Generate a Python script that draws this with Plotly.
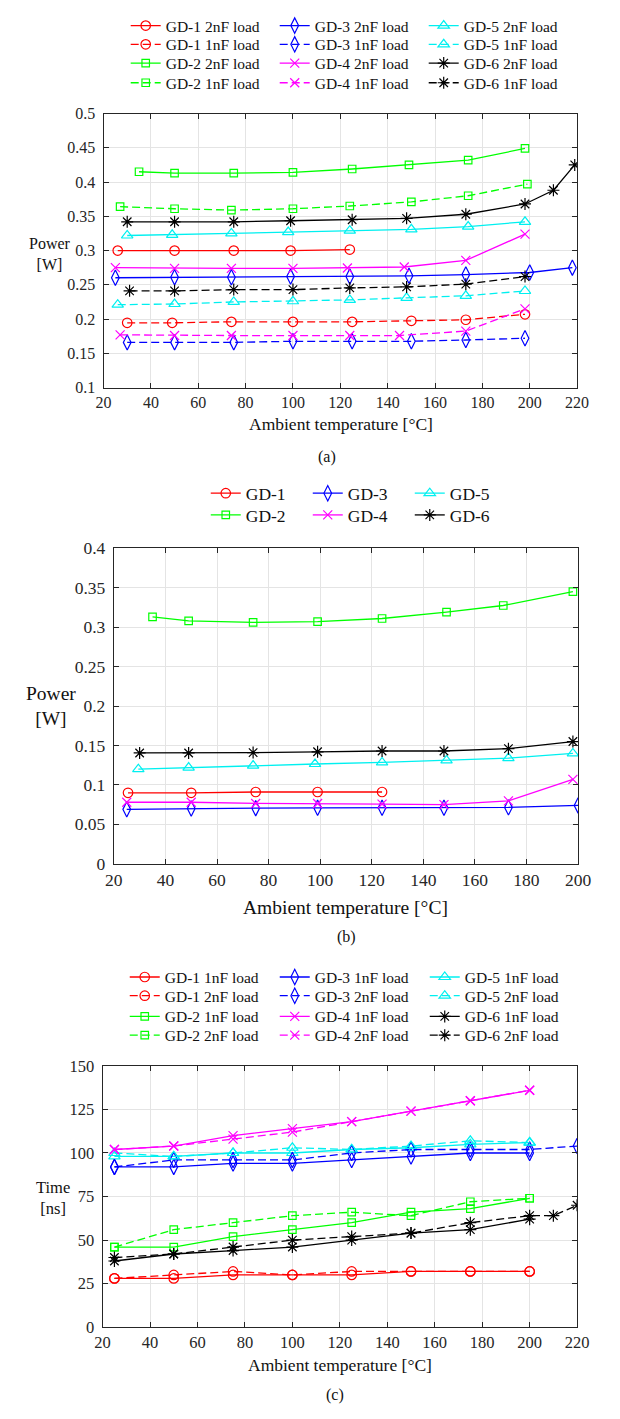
import plotly.graph_objects as go

W, H = 620, 1419
FONT = "Liberation Serif"
AXC = "#262626"
GRID = "#e4e4e4"

RED, BLUE, CYAN = "#ff0000", "#0000ff", "#00f0f0"
GREEN, MAGENTA, BLACK = "#00ff00", "#ff00ff", "#000000"

# ---------------- (a) gate-driver power, 1nF / 2nF load ----------------
a_gd1_2n_x = [26, 50, 75, 99, 124]
a_gd1_2n_y = [0.300, 0.300, 0.300, 0.300, 0.3015]
a_gd1_1n_x = [30, 49, 74, 100, 125, 150, 173, 198]
a_gd1_1n_y = [0.1946, 0.1946, 0.196, 0.196, 0.196, 0.1975, 0.199, 0.207]
a_gd2_2n_x = [35, 50, 75, 100, 125, 149, 174, 198]
a_gd2_2n_y = [0.415, 0.413, 0.413, 0.414, 0.419, 0.425, 0.432, 0.449]
a_gd2_1n_x = [27, 50, 74, 100, 124, 150, 174, 199]
a_gd2_1n_y = [0.364, 0.361, 0.359, 0.361, 0.365, 0.371, 0.380, 0.397]
a_gd3_2n_x = [25, 50, 74, 99, 124, 149, 173, 200, 218]
a_gd3_2n_y = [0.2603, 0.261, 0.261, 0.262, 0.2622, 0.2632, 0.265, 0.268, 0.275]
a_gd3_1n_x = [30, 50, 75, 100, 125, 150, 173, 198]
a_gd3_1n_y = [0.166, 0.166, 0.166, 0.1676, 0.1676, 0.1676, 0.1695, 0.172]
a_gd4_2n_x = [25, 50, 74, 100, 123, 147, 173, 198]
a_gd4_2n_y = [0.275, 0.274, 0.274, 0.274, 0.2746, 0.276, 0.2856, 0.324]
a_gd4_1n_x = [27, 50, 74, 100, 124, 145, 173, 198]
a_gd4_1n_y = [0.177, 0.176, 0.176, 0.176, 0.176, 0.176, 0.1825, 0.215]
a_gd5_2n_x = [30, 49, 74, 98, 124, 150, 174, 198]
a_gd5_2n_y = [0.322, 0.323, 0.325, 0.327, 0.329, 0.331, 0.335, 0.342]
a_gd5_1n_x = [26, 50, 75, 100, 124, 148, 173, 198]
a_gd5_1n_y = [0.221, 0.222, 0.225, 0.226, 0.228, 0.231, 0.234, 0.241]
a_gd6_2n_x = [30, 50, 75, 99, 125, 148, 173, 198, 210, 219]
a_gd6_2n_y = [0.342, 0.342, 0.342, 0.3435, 0.345, 0.347, 0.353, 0.368, 0.388, 0.425]
a_gd6_1n_x = [31, 50, 75, 100, 124, 148, 173, 198]
a_gd6_1n_y = [0.2412, 0.2412, 0.243, 0.243, 0.2455, 0.247, 0.251, 0.262]

# ---------------- (b) quiescent power ----------------
b_gd1_x = [25.5, 50, 75, 99, 124]
b_gd1_y = [0.090, 0.090, 0.091, 0.091, 0.091]
b_gd2_x = [35, 49, 74, 99, 124, 149, 171, 198]
b_gd2_y = [0.313, 0.308, 0.306, 0.307, 0.311, 0.319, 0.3275, 0.345]
b_gd3_x = [25, 50, 75, 99, 124, 148, 173, 200]
b_gd3_y = [0.069, 0.070, 0.0705, 0.071, 0.071, 0.071, 0.0715, 0.074]
b_gd4_x = [25, 50, 75, 99, 124, 148, 173, 198]
b_gd4_y = [0.078, 0.078, 0.0765, 0.0765, 0.0756, 0.075, 0.0797, 0.107]
b_gd5_x = [29.5, 49, 74, 98, 124, 149, 173, 198]
b_gd5_y = [0.120, 0.122, 0.1245, 0.1265, 0.1285, 0.131, 0.134, 0.140]
b_gd6_x = [30, 49, 74, 99, 124, 148, 173, 198]
b_gd6_y = [0.1405, 0.1405, 0.141, 0.142, 0.143, 0.143, 0.146, 0.155]

# ---------------- (c) switching time ----------------
c_temp = [25, 50, 75, 100, 125, 150, 175, 200]
c_temp_ext = [25, 50, 75, 100, 125, 150, 175, 200, 220]
c_temp_ext2 = [25, 50, 75, 100, 125, 150, 175, 200, 210, 220]
c_gd1_1n = [28, 28, 30, 30, 30, 32, 32, 32]
c_gd1_2n = [28, 30, 32, 30, 32, 32, 32, 32]
c_gd2_1n = [46, 46, 52, 56, 60, 66, 68, 74]
c_gd2_2n = [46, 56, 60, 64, 66, 64, 72, 74]
c_gd3_1n = [92, 92, 94, 94, 96, 98, 100, 100]
c_gd3_2n = [92, 96, 96, 96, 100, 102, 102, 102, 104]
c_gd4_1n = [102, 104, 110, 114, 118, 124, 130, 136]
c_gd4_2n = [102, 104, 108, 112, 118, 124, 130, 136]
c_gd5_1n = [98, 98, 100, 100, 102, 103, 105, 106]
c_gd5_2n = [100, 98, 100, 103, 102, 104, 107, 106]
c_gd6_1n = [38, 42, 44, 46, 50, 54, 56, 62]
c_gd6_2n = [40, 42, 46, 50, 52, 54, 60, 64, 64, 70]

MARK = {
    "GD-1": ("circle-open", 9.5),
    "GD-2": ("square-open", 7.5),
    "GD-3": ("diamond-tall-open", 11),
    "GD-4": ("x-thin-open", 9),
    "GD-5": ("triangle-up-open", 10),
    "GD-6": ("asterisk-open", 10),
}
COL = {"GD-1": RED, "GD-2": GREEN, "GD-3": BLUE,
       "GD-4": MAGENTA, "GD-5": CYAN, "GD-6": BLACK}
DASH = "8px,4px"


def px_x(p):
    return p / W


def px_y(p):
    return 1 - p / H


fig = go.Figure()


def add(name, gd, x, y, dashed, xa, ya, legend):
    sym, size = MARK[gd]
    fig.add_trace(go.Scatter(
        x=x, y=y, name=name, mode="lines+markers",
        xaxis=xa, yaxis=ya, legend=legend,
        line=dict(color=COL[gd], width=1.3, dash=DASH if dashed else "solid"),
        marker=dict(symbol=sym, size=size, color=COL[gd],
                    line=dict(color=COL[gd], width=1.2)),
    ))


# (a) legend rows
add("GD-1 2nF load", "GD-1", a_gd1_2n_x, a_gd1_2n_y, False, "x", "y", "legend")
add("GD-3 2nF load", "GD-3", a_gd3_2n_x, a_gd3_2n_y, False, "x", "y", "legend")
add("GD-5 2nF load", "GD-5", a_gd5_2n_x, a_gd5_2n_y, False, "x", "y", "legend")
add("GD-1 1nF load", "GD-1", a_gd1_1n_x, a_gd1_1n_y, True, "x", "y", "legend2")
add("GD-3 1nF load", "GD-3", a_gd3_1n_x, a_gd3_1n_y, True, "x", "y", "legend2")
add("GD-5 1nF load", "GD-5", a_gd5_1n_x, a_gd5_1n_y, True, "x", "y", "legend2")
add("GD-2 2nF load", "GD-2", a_gd2_2n_x, a_gd2_2n_y, False, "x", "y", "legend3")
add("GD-4 2nF load", "GD-4", a_gd4_2n_x, a_gd4_2n_y, False, "x", "y", "legend3")
add("GD-6 2nF load", "GD-6", a_gd6_2n_x, a_gd6_2n_y, False, "x", "y", "legend3")
add("GD-2 1nF load", "GD-2", a_gd2_1n_x, a_gd2_1n_y, True, "x", "y", "legend4")
add("GD-4 1nF load", "GD-4", a_gd4_1n_x, a_gd4_1n_y, True, "x", "y", "legend4")
add("GD-6 1nF load", "GD-6", a_gd6_1n_x, a_gd6_1n_y, True, "x", "y", "legend4")

# (b)
add("GD-1", "GD-1", b_gd1_x, b_gd1_y, False, "x2", "y2", "legend5")
add("GD-3", "GD-3", b_gd3_x, b_gd3_y, False, "x2", "y2", "legend5")
add("GD-5", "GD-5", b_gd5_x, b_gd5_y, False, "x2", "y2", "legend5")
add("GD-2", "GD-2", b_gd2_x, b_gd2_y, False, "x2", "y2", "legend6")
add("GD-4", "GD-4", b_gd4_x, b_gd4_y, False, "x2", "y2", "legend6")
add("GD-6", "GD-6", b_gd6_x, b_gd6_y, False, "x2", "y2", "legend6")

# (c)
add("GD-1 1nF load", "GD-1", c_temp, c_gd1_1n, False, "x3", "y3", "legend7")
add("GD-3 1nF load", "GD-3", c_temp, c_gd3_1n, False, "x3", "y3", "legend7")
add("GD-5 1nF load", "GD-5", c_temp, c_gd5_1n, False, "x3", "y3", "legend7")
add("GD-1 2nF load", "GD-1", c_temp, c_gd1_2n, True, "x3", "y3", "legend8")
add("GD-3 2nF load", "GD-3", c_temp_ext, c_gd3_2n, True, "x3", "y3", "legend8")
add("GD-5 2nF load", "GD-5", c_temp, c_gd5_2n, True, "x3", "y3", "legend8")
add("GD-2 1nF load", "GD-2", c_temp, c_gd2_1n, False, "x3", "y3", "legend9")
add("GD-4 1nF load", "GD-4", c_temp, c_gd4_1n, False, "x3", "y3", "legend9")
add("GD-6 1nF load", "GD-6", c_temp, c_gd6_1n, False, "x3", "y3", "legend9")
add("GD-2 2nF load", "GD-2", c_temp, c_gd2_2n, True, "x3", "y3", "legend10")
add("GD-4 2nF load", "GD-4", c_temp, c_gd4_2n, True, "x3", "y3", "legend10")
add("GD-6 2nF load", "GD-6", c_temp_ext2, c_gd6_2n, True, "x3", "y3", "legend10")


def xaxis(left, right, rng, fs, anchor):
    return dict(domain=[px_x(left), px_x(right)], range=rng, dtick=20, tick0=20,
                anchor=anchor, ticks="inside", ticklen=5, tickcolor=AXC,
                showline=True, linecolor=AXC, linewidth=1, mirror="ticks",
                showgrid=True, gridcolor=GRID, gridwidth=1, zeroline=False,
                tickfont=dict(family=FONT, size=fs, color=AXC),
                ticklabelstandoff=0)


def yaxis(top, bottom, rng, dt, fs, anchor):
    return dict(domain=[px_y(bottom), px_y(top)], range=rng, dtick=dt, tick0=0,
                anchor=anchor, ticks="inside", ticklen=5, tickcolor=AXC,
                showline=True, linecolor=AXC, linewidth=1, mirror="ticks",
                showgrid=True, gridcolor=GRID, gridwidth=1, zeroline=False,
                tickfont=dict(family=FONT, size=fs, color=AXC),
                ticklabelstandoff=4)


def row_legend(left, center_y, fs, ew):
    return dict(orientation="h", x=px_x(left), y=px_y(center_y - 16),
                xanchor="left", yanchor="top", entrywidth=ew,
                entrywidthmode="pixels", bgcolor="rgba(0,0,0,0)",
                font=dict(family=FONT, size=fs, color="#111111"),
                itemwidth=30, tracegroupgap=0)


layout = dict(
    width=W, height=H, margin=dict(l=0, r=0, t=0, b=0),
    paper_bgcolor="white", plot_bgcolor="white",
    font=dict(family=FONT, color=AXC),
    xaxis=xaxis(98, 589, [20, 220], 16, "y"),
    yaxis=yaxis(105, 383, [0.1, 0.5], 0.05, 16, "x"),
    xaxis2=xaxis(108.7, 590, [20, 200], 17.5, "y2"),
    yaxis2=yaxis(546, 866, [0, 0.4], 0.05, 17.5, "x2"),
    xaxis3=xaxis(97, 589, [20, 220], 16.5, "y3"),
    yaxis3=yaxis(1071, 1336, [0, 150], 25, 16.5, "x3"),
)

legend_rows = {
    "legend": (121, 15, 15.5, 104),
    "legend2": (121, 34, 15.5, 104),
    "legend3": (121, 53, 15.5, 104),
    "legend4": (121, 73, 15.5, 104),
    "legend5": (204, 488, 17.5, 57),
    "legend6": (204, 510, 17.5, 57),
    "legend7": (120, 980, 15.5, 105),
    "legend8": (120, 999, 15.5, 105),
    "legend9": (120, 1020, 15.5, 105),
    "legend10": (120, 1039, 15.5, 105),
}
for key, (lx, cy, fs, ew) in legend_rows.items():
    layout[key] = row_legend(lx, cy, fs, ew)

fig.update_layout(**layout)


def text(s, x, y, size, color="#111111"):
    fig.add_annotation(text=s, x=px_x(x), y=px_y(y), xref="paper", yref="paper",
                       xanchor="center", yanchor="middle", showarrow=False,
                       align="center", font=dict(family=FONT, size=size, color=color))


text("Power<br>[W]", 43, 247, 16)
text("Ambient temperature [°C]", 344, 420, 17.5)
text("(a)", 330, 453, 16)

text("Power<br>[W]", 44, 706, 19.5)
text("Ambient temperature [°C]", 349, 910, 19.5)
text("(b)", 350, 940, 16)

text("Time<br>[ns]", 46, 1205, 16.5)
text("Ambient temperature [°C]", 343, 1374, 17.5)
text("(c)", 338, 1405, 16)

fig.write_html("out.html")
